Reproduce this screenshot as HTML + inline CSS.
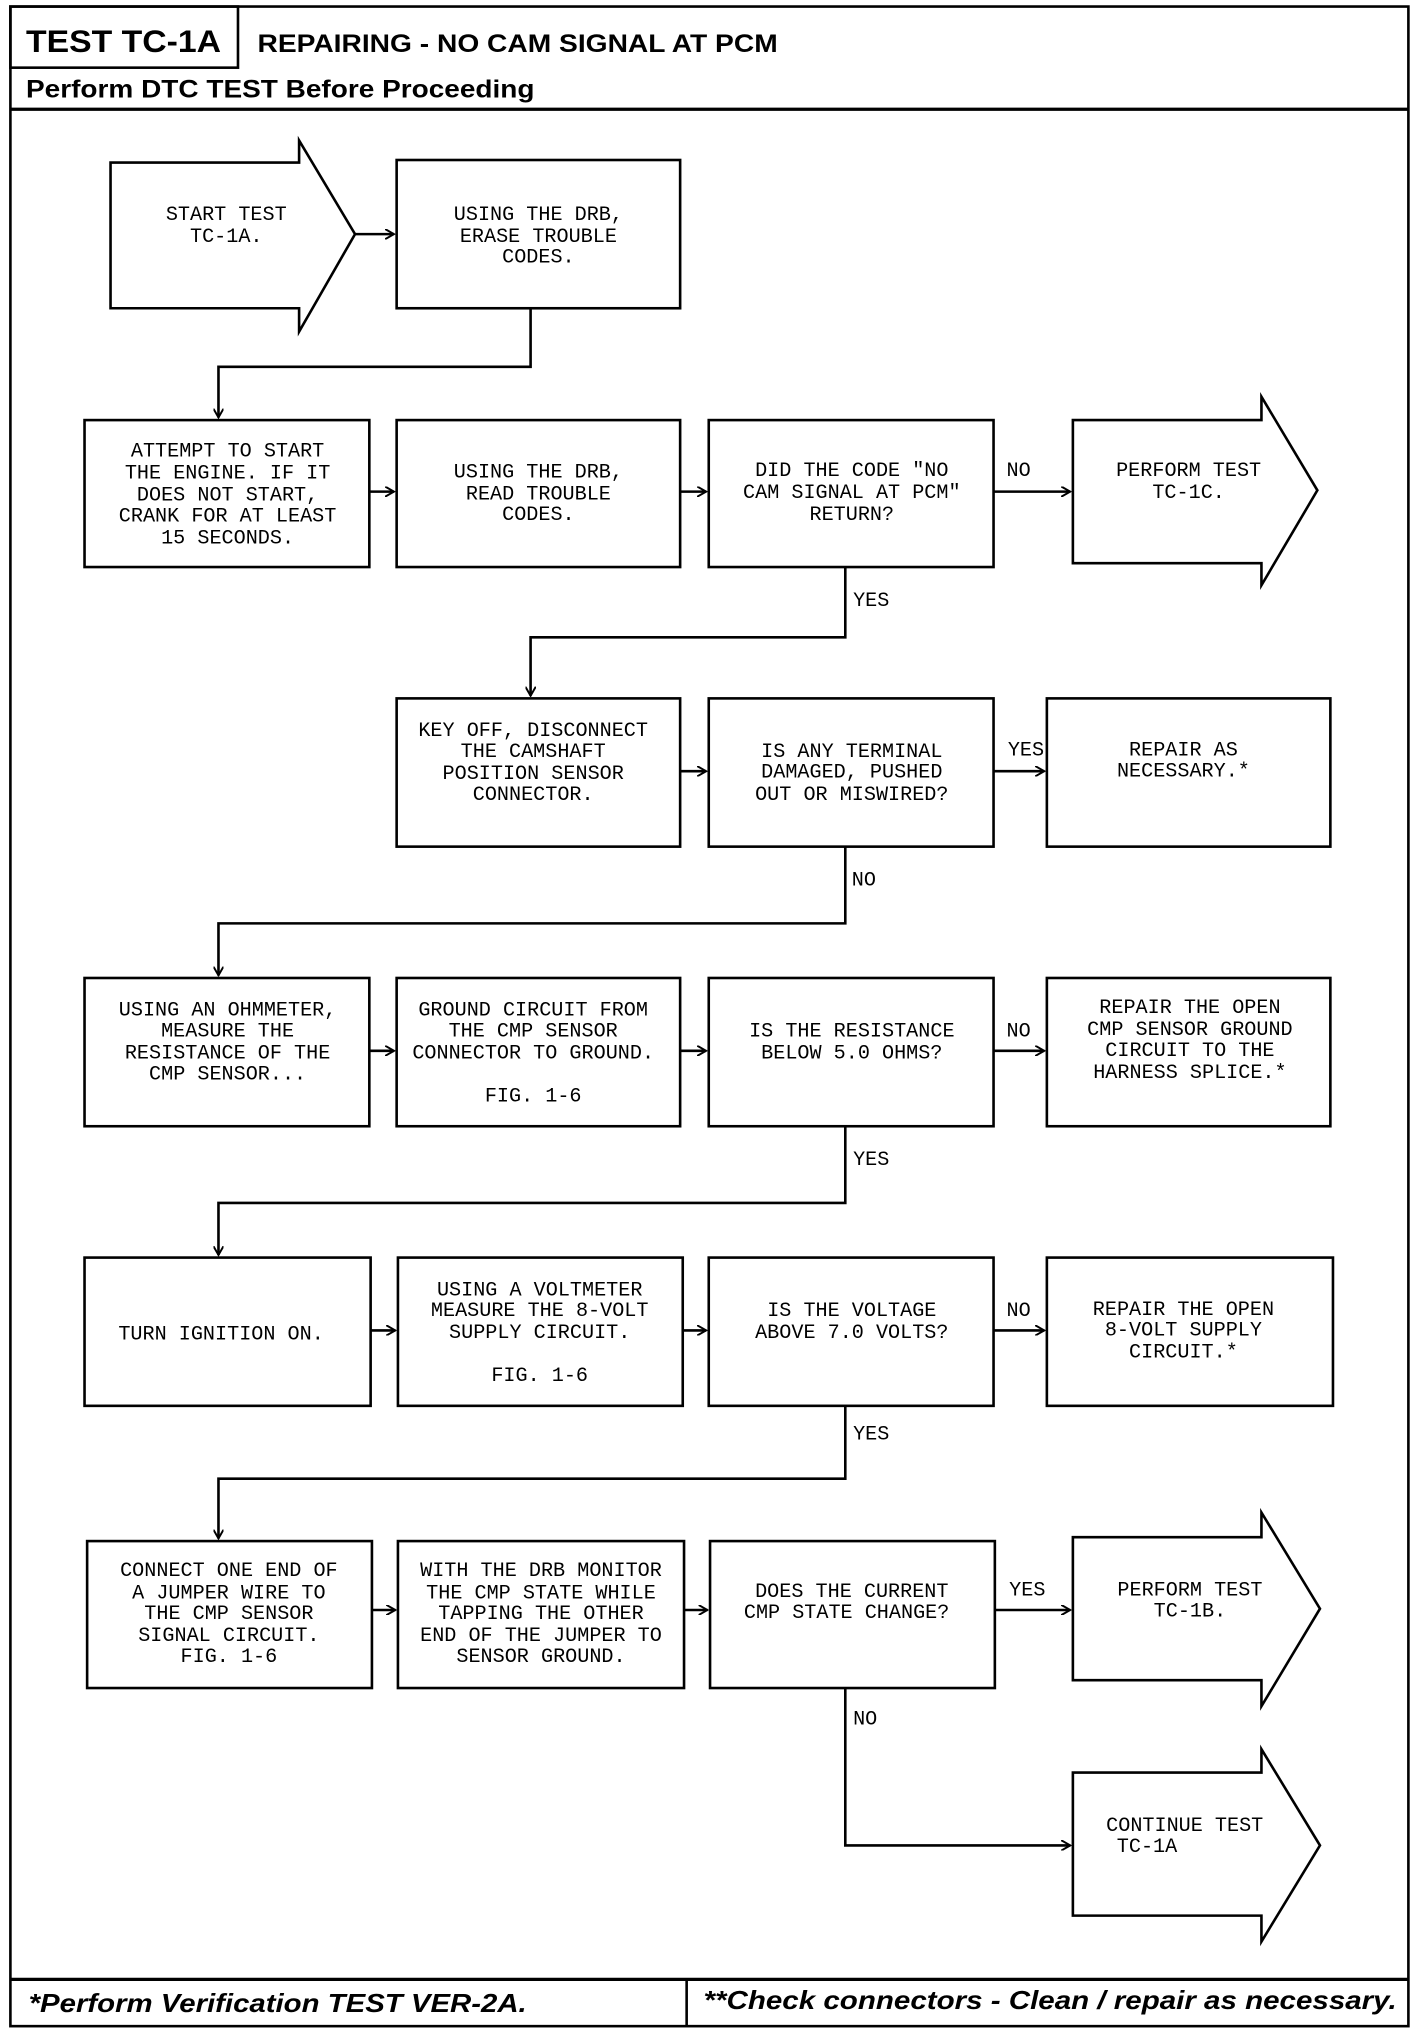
<!DOCTYPE html>
<html><head><meta charset="utf-8"><style>
html,body{margin:0;padding:0;background:#fff;}
svg{display:block;}
.t{font-family:"Liberation Mono",monospace;font-size:15.5px;fill:#000;text-anchor:middle;}
.l{font-family:"Liberation Mono",monospace;font-size:15.5px;fill:#000;}
.h{font-family:"Liberation Sans",sans-serif;font-weight:bold;fill:#000;}
.f{font-family:"Liberation Sans",sans-serif;font-weight:bold;font-style:italic;font-size:20px;fill:#000;}
rect,polyline,polygon{fill:none;stroke:#000;stroke-width:2;}
</style></head><body>
<svg width="1424" height="2034" viewBox="0 0 1095 1564" xmlns="http://www.w3.org/2000/svg">
<defs><marker id="a" markerWidth="8" markerHeight="8" refX="7" refY="4" orient="auto" markerUnits="userSpaceOnUse"><path d="M0,0 L7,4 L0,8" fill="none" stroke="#000" stroke-width="1.5"/></marker></defs>
<rect x="8" y="5" width="1075" height="1553" stroke-width="2.5"/>
<rect x="8" y="5" width="175" height="47"/>
<line x1="8" y1="84" x2="1083" y2="84" stroke="#000" stroke-width="2.5"/>
<text class="h" x="20" y="40" font-size="24" textLength="150" lengthAdjust="spacingAndGlyphs">TEST TC-1A</text>
<text class="h" x="198" y="40" font-size="19.5" textLength="400" lengthAdjust="spacingAndGlyphs">REPAIRING - NO CAM SIGNAL AT PCM</text>
<text class="h" x="20" y="75" font-size="19" textLength="391" lengthAdjust="spacingAndGlyphs">Perform DTC TEST Before Proceeding</text>
<line x1="8" y1="1522" x2="1083" y2="1522" stroke="#000" stroke-width="2.5"/>
<line x1="528" y1="1522" x2="528" y2="1558" stroke="#000" stroke-width="2"/>
<text class="f" x="22" y="1547" textLength="383" lengthAdjust="spacingAndGlyphs">*Perform Verification TEST VER-2A.</text>
<text class="f" x="541" y="1545" textLength="533" lengthAdjust="spacingAndGlyphs">**Check connectors - Clean / repair as necessary.</text>

<g stroke="#000" stroke-width="2" fill="none">
<polygon points="85,125 230,125 230,108 273,180 230,255 230,237 85,237"/>
<rect x="305" y="123" width="218" height="114"/>
<polyline points="273,180 303,180" marker-end="url(#a)"/>
<polyline points="408,237 408,282 168,282 168,321" marker-end="url(#a)"/>

<rect x="65" y="323" width="219" height="113"/>
<rect x="305" y="323" width="218" height="113"/>
<rect x="545" y="323" width="219" height="113"/>
<polygon points="825,323 970,323 970,305 1013,377 970,450 970,433 825,433"/>
<polyline points="284,378 303,378" marker-end="url(#a)"/>
<polyline points="523,378 543,378" marker-end="url(#a)"/>
<polyline points="764,378 823,378" marker-end="url(#a)"/>
<polyline points="650,436 650,490 408,490 408,535" marker-end="url(#a)"/>

<rect x="305" y="537" width="218" height="114"/>
<rect x="545" y="537" width="219" height="114"/>
<rect x="805" y="537" width="218" height="114"/>
<polyline points="523,593 543,593" marker-end="url(#a)"/>
<polyline points="764,593 803,593" marker-end="url(#a)"/>
<polyline points="650,651 650,710 168,710 168,750" marker-end="url(#a)"/>

<rect x="65" y="752" width="219" height="114"/>
<rect x="305" y="752" width="218" height="114"/>
<rect x="545" y="752" width="219" height="114"/>
<rect x="805" y="752" width="218" height="114"/>
<polyline points="284,808 303,808" marker-end="url(#a)"/>
<polyline points="523,808 543,808" marker-end="url(#a)"/>
<polyline points="764,808 803,808" marker-end="url(#a)"/>
<polyline points="650,866 650,925 168,925 168,965" marker-end="url(#a)"/>

<rect x="65" y="967" width="220" height="114"/>
<rect x="306" y="967" width="219" height="114"/>
<rect x="545" y="967" width="219" height="114"/>
<rect x="805" y="967" width="220" height="114"/>
<polyline points="285,1023 304,1023" marker-end="url(#a)"/>
<polyline points="525,1023 543,1023" marker-end="url(#a)"/>
<polyline points="764,1023 803,1023" marker-end="url(#a)"/>
<polyline points="650,1081 650,1137 168,1137 168,1183" marker-end="url(#a)"/>

<rect x="67" y="1185" width="219" height="113"/>
<rect x="306" y="1185" width="220" height="113"/>
<rect x="546" y="1185" width="219" height="113"/>
<polygon points="825,1182 970,1182 970,1163 1015,1237 970,1312 970,1292 825,1292"/>
<polyline points="286,1238 304,1238" marker-end="url(#a)"/>
<polyline points="526,1238 544,1238" marker-end="url(#a)"/>
<polyline points="765,1238 823,1238" marker-end="url(#a)"/>
<polyline points="650,1298 650,1419 823,1419" marker-end="url(#a)"/>
<polygon points="825,1363 970,1363 970,1345 1015,1419 970,1493 970,1473 825,1473"/>
</g>

<text class="t" x="174" y="169">START TEST</text><text class="t" x="174" y="186">TC-1A.</text>
<text class="t" x="414" y="169">USING THE DRB,</text><text class="t" x="414" y="186">ERASE TROUBLE</text><text class="t" x="414" y="202">CODES.</text>

<text class="t" x="175" y="351">ATTEMPT TO START</text><text class="t" x="175" y="368">THE ENGINE. IF IT</text><text class="t" x="175" y="385">DOES NOT START,</text><text class="t" x="175" y="401">CRANK FOR AT LEAST</text><text class="t" x="175" y="418">15 SECONDS.</text>
<text class="t" x="414" y="367">USING THE DRB,</text><text class="t" x="414" y="384">READ TROUBLE</text><text class="t" x="414" y="400">CODES.</text>
<text class="t" x="655" y="366">DID THE CODE "NO</text><text class="t" x="655" y="383">CAM SIGNAL AT PCM"</text><text class="t" x="655" y="400">RETURN?</text>
<text class="t" x="914" y="366">PERFORM TEST</text><text class="t" x="914" y="383">TC-1C.</text>
<text class="l" x="774" y="366">NO</text>
<text class="l" x="656" y="466">YES</text>

<text class="t" x="410" y="566">KEY OFF, DISCONNECT</text><text class="t" x="410" y="582">THE CAMSHAFT</text><text class="t" x="410" y="599">POSITION SENSOR</text><text class="t" x="410" y="615">CONNECTOR.</text>
<text class="t" x="655" y="582">IS ANY TERMINAL</text><text class="t" x="655" y="598">DAMAGED, PUSHED</text><text class="t" x="655" y="615">OUT OR MISWIRED?</text>
<text class="t" x="910" y="581">REPAIR AS</text><text class="t" x="910" y="597">NECESSARY.*</text>
<text class="l" x="775" y="581">YES</text>
<text class="l" x="655" y="681">NO</text>

<text class="t" x="175" y="781">USING AN OHMMETER,</text><text class="t" x="175" y="797">MEASURE THE</text><text class="t" x="175" y="814">RESISTANCE OF THE</text><text class="t" x="175" y="830">CMP SENSOR...</text>
<text class="t" x="410" y="781">GROUND CIRCUIT FROM</text><text class="t" x="410" y="797">THE CMP SENSOR</text><text class="t" x="410" y="814">CONNECTOR TO GROUND.</text><text class="t" x="410" y="847">FIG. 1-6</text>
<text class="t" x="655" y="797">IS THE RESISTANCE</text><text class="t" x="655" y="814">BELOW 5.0 OHMS?</text>
<text class="t" x="915" y="779">REPAIR THE OPEN</text><text class="t" x="915" y="796">CMP SENSOR GROUND</text><text class="t" x="915" y="812">CIRCUIT TO THE</text><text class="t" x="915" y="829">HARNESS SPLICE.*</text>
<text class="l" x="774" y="797">NO</text>
<text class="l" x="656" y="896">YES</text>

<text class="t" x="170" y="1030">TURN IGNITION ON.</text>
<text class="t" x="415" y="996">USING A VOLTMETER</text><text class="t" x="415" y="1012">MEASURE THE 8-VOLT</text><text class="t" x="415" y="1029">SUPPLY CIRCUIT.</text><text class="t" x="415" y="1062">FIG. 1-6</text>
<text class="t" x="655" y="1012">IS THE VOLTAGE</text><text class="t" x="655" y="1029">ABOVE 7.0 VOLTS?</text>
<text class="t" x="910" y="1011">REPAIR THE OPEN</text><text class="t" x="910" y="1027">8-VOLT SUPPLY</text><text class="t" x="910" y="1044">CIRCUIT.*</text>
<text class="l" x="774" y="1012">NO</text>
<text class="l" x="656" y="1107">YES</text>

<text class="t" x="176" y="1212">CONNECT ONE END OF</text><text class="t" x="176" y="1229">A JUMPER WIRE TO</text><text class="t" x="176" y="1245">THE CMP SENSOR</text><text class="t" x="176" y="1262">SIGNAL CIRCUIT.</text><text class="t" x="176" y="1278">FIG. 1-6</text>
<text class="t" x="416" y="1212">WITH THE DRB MONITOR</text><text class="t" x="416" y="1229">THE CMP STATE WHILE</text><text class="t" x="416" y="1245">TAPPING THE OTHER</text><text class="t" x="416" y="1262">END OF THE JUMPER TO</text><text class="t" x="416" y="1278">SENSOR GROUND.</text>
<text class="t" x="655" y="1228">DOES THE CURRENT</text><text class="t" x="651" y="1244">CMP STATE CHANGE?</text>
<text class="t" x="915" y="1227">PERFORM TEST</text><text class="t" x="915" y="1243">TC-1B.</text>
<text class="l" x="776" y="1227">YES</text>
<text class="l" x="656" y="1326">NO</text>
<text class="t" x="911" y="1408">CONTINUE TEST</text><text class="t" x="882" y="1424">TC-1A</text>
</svg>
</body></html>
